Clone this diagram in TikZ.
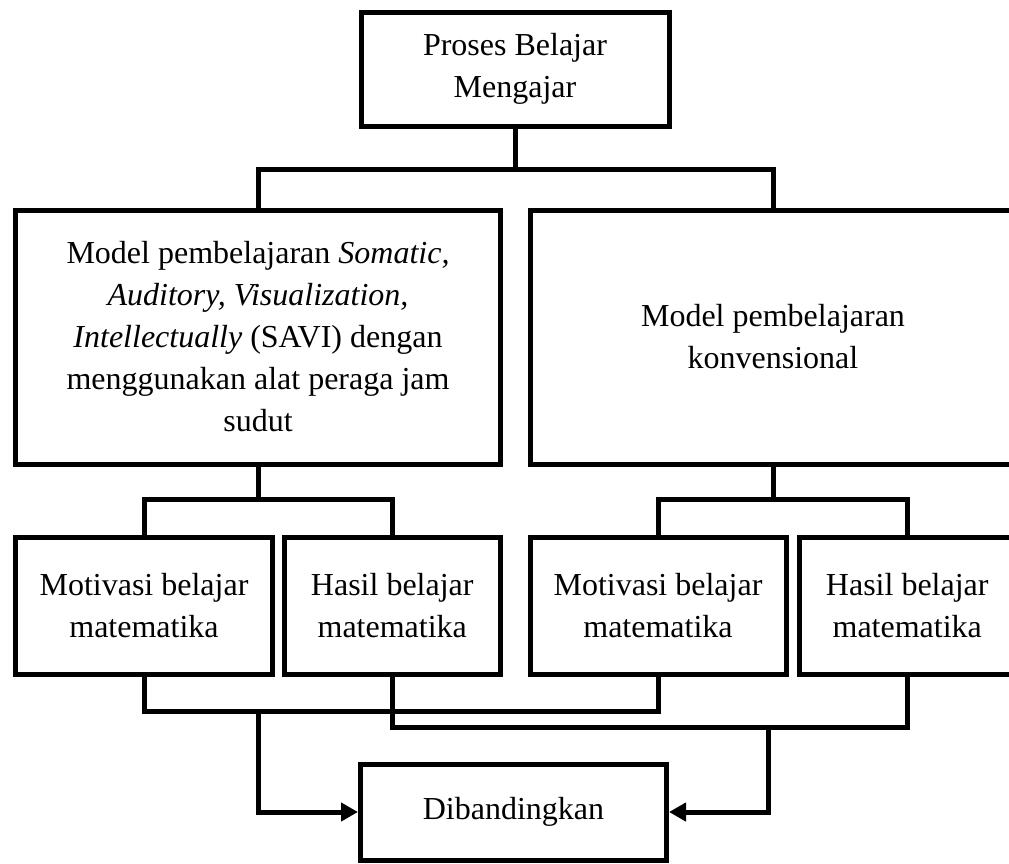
\documentclass[tikz,border=0pt]{standalone}
\usepackage{fontspec}
\setmainfont{Liberation Serif}
\usetikzlibrary{arrows.meta}
\begin{document}
\begin{tikzpicture}[x=1pt,y=-1pt,
  box/.style={draw, line width=5pt, inner sep=0pt, align=center, font=\fontsize{32}{42}\selectfont},
  conn/.style={line width=5pt},
  arr/.style={line width=5pt, -{Triangle[length=17pt,width=18pt]}}]
\useasboundingbox (0,0) rectangle (1009,863);
\clip (0,0) rectangle (1009,863);
\node[box, minimum width=308pt, minimum height=113.5pt] (top) at (515,69.25) {Proses Belajar\\Mengajar};
\node[box, minimum width=485pt, minimum height=254pt] (left) at (258,337) {Model pembelajaran \textit{Somatic,}\\\textit{Auditory, Visualization,}\\\textit{Intellectually} (SAVI) dengan\\menggunakan alat peraga jam\\sudut};
\node[box, minimum width=485pt, minimum height=254pt] (right) at (773,337) {Model pembelajaran\\konvensional};
\node[box, minimum width=257pt, minimum height=137.5pt] (s1) at (144,605.75) {Motivasi belajar\\matematika};
\node[box, minimum width=216.5pt, minimum height=137.5pt] (s2) at (392.25,605.75) {Hasil belajar\\matematika};
\node[box, minimum width=256pt, minimum height=137.5pt] (s3) at (658,605.75) {Motivasi belajar\\matematika};
\node[box, minimum width=216.5pt, minimum height=137.5pt] (s4) at (907.25,605.75) {Hasil belajar\\matematika};
\node[box, minimum width=306pt, minimum height=96pt] (dib) at (513.5,812) {Dibandingkan};
% top split
\coordinate (j1) at (515,169.5);
\draw[conn] (top.south) -- (j1);
\draw[conn] (left.north) |- (j1) -| (right.north);
% left split
\coordinate (j2) at (258,499);
\draw[conn] (left.south) -- (j2);
\draw[conn] (s1.north) |- (j2) -| (s2.north);
% right split
\coordinate (j3) at (773,499);
\draw[conn] (right.south) -- (j3);
\draw[conn] (s3.north) |- (j3) -| (s4.north);
% bottom: motivasi
\coordinate (h1) at (0,711.5);
\coordinate (h2) at (0,727.5);
\draw[conn] (s1.south) -- (s1.south |- h1) -- (s3.south |- h1) -- (s3.south);
\draw[conn] (s2.south) -- (s2.south |- h2) -- (s4.south |- h2) -- (s4.south);
\coordinate (b1) at (258,711.5);
\coordinate (b2) at (768,727.5);
\draw[arr] (b1) |- (dib.west);
\draw[arr] (b2) |- (dib.east);
\end{tikzpicture}
\end{document}
